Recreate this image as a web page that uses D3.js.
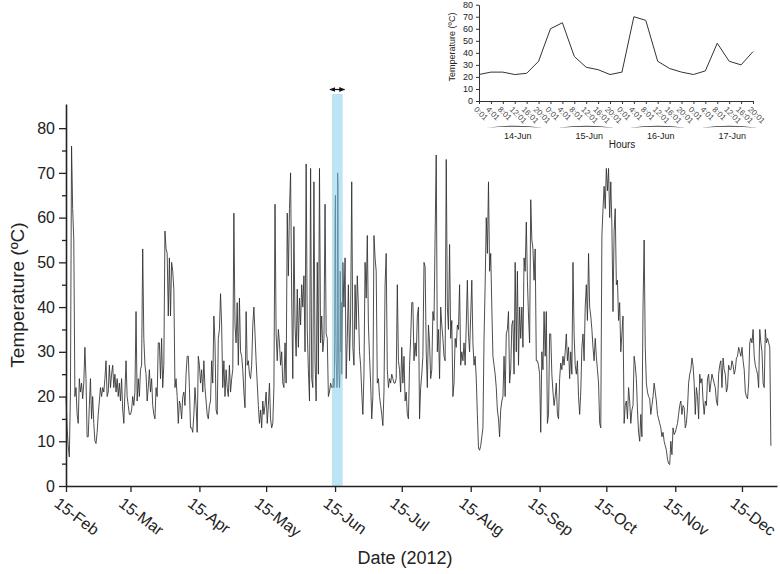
<!DOCTYPE html>
<html>
<head>
<meta charset="utf-8">
<script src="https://cdn.jsdelivr.net/npm/d3@7"></script>
<style>
  body { margin: 0; background: #fff; }
  svg { display: block; font-family: "Liberation Sans", Arial, sans-serif; }
</style>
</head>
<body>
<svg id="chart" width="780" height="574"></svg>
<script>
// Temperature readings, two per day (00:00 and 12:00)
const feb = [20,13, 9,6.5, 21,76, 62,55, 20,22, 16,14, 24,21, 23,19.5, 23,31, 24,11,
             11,18, 24,15, 20,14, 10,9.5, 12,16];
const mar = [19,22, 20,22, 21,24, 28,20, 21,27, 22,25, 27,22, 25,21, 24,20, 23,19,
             24,17, 14,21, 28,20, 18,16, 16,17, 20,18, 21,39, 19,24, 20,26, 27,53,
             33,27, 25,19, 22,26, 21,24, 18,16, 15,22, 20,32, 32,24, 33,22, 27,57, 53,52];
const apr = [38,51, 38,50, 48,44, 22,24, 20,14, 19,18, 15,20, 21,18, 25,29, 29,22,
             13,13, 12,16, 22,18, 12,29, 27,23, 26,21, 28,22, 19,16, 15,18, 19,28,
             23,38, 32,17, 16,33, 35,43, 36,22, 28,20, 26,22, 20,27, 21,24, 26,61];
const may = [36,32, 41,27, 42,30, 29,26, 21,17.5, 39,27, 28,25, 24,27, 36,40, 34,28,
             23,18, 14,17, 13,19, 16,18, 21,14, 18,23, 15,13, 14,22, 63,34, 28,35,
             32,27, 30,23, 22,32, 23,61, 47,62, 70,42, 24,58, 36,29, 44,31, 42,36, 45,40];
// 14-17 Jun are left empty here: the hourly inset readings fill them
const jun = [47,30, 72,35, 26,19, 71,24, 22,68, 28,19, 50,25, 71,32, 38,30, 33,63,
             34,33, 20,21, 23,22, null,null, null,null, null,null, null,null, 25,50,
             40,51, 24,33, 45,28, 38,68, 31,27, 45,35, 47,40, 30,27, 21,16, 25,50,
             42,56, 36,29];
const jul = [23,15, 20,56, 51,48, 23,24, 20,18, 16,13.5, 21,45, 52,26, 22,24, 23,25,
             24,23, 23,24, 45,28, 26,21, 31,23, 29,19, 21,16, 15,27, 33,41, 41,28,
             32,29, 38,40, 15,22, 25,29, 50,49, 30,22, 36,32, 24,26, 39,37, 56,74, 30,35];
const aug = [24,40, 36,33, 29,28, 73,40, 35,54, 33,37, 20,23, 33,31, 36,35, 45,27,
             30,28, 32,27, 36,46, 34,30, 38,46, 32,27, 29,24, 16,8.5, 8,9, 11,13,
             33,45, 60,52, 68,48, 52,40, 29,27, 25,22, 17,15, 11,17, 19,20, 29,20, 34,35];
const sep = [39,23, 26,36, 37,25, 50,30, 48,27, 40,33, 40,31, 51,48, 59,46, 38,32,
             64,55, 53,46, 53,28, 28,27, 25,12, 30,26, 39,29, 39,14, 16,34, 34,25,
             21,18, 20,23, 16,15, 24,27.5, 26,29, 27,30, 34,28, 31,24, 30,25, 50,34];
const oct = [27,25, 28,20, 16,21, 31,34, 28,40, 45,37, 52,40, 38,35, 31,28, 33,29,
             26,23, 14,13, 56,62, 67,62, 71,66, 71,60, 68,58, 39,57, 62,45, 46,37,
             41,30, 34,38, 14,18, 19,15, 22,19, 14,17, 18,29, 27,24, 17,12, 10,16, 11,40];
const nov = [55,31, 23,21, 20,19.5, 16,18, 20,23, 21,19, 16,15, 14,13, 11,12, 10,9,
             8,6, 5,4.8, 10,7, 13,11.5, 12,13, 14,16, 18,19, 16,18, 17.5,13, 14,17.5,
             23,25, 26,28.6, 27,23, 16,22, 20,15, 25,23, 24,19, 16,19, 18,24, 25,21];
const dec = [23,25, 24,23, 22,19, 18,25, 27,28, 22,28.6, 26,25, 21,22, 27,26, 26,28,
             27,25, 26,28.6, 29,31, 30,29, 31,28, 26,21, 20,19.5, 23,32, 33,32, 35,29,
             27,26, 25,22, 35,32, 30,23, 22,35, 32,33, 32,31, 9];

// Inset: 14-17 June, every 4 hours
const insetDays = ["14-Jun", "15-Jun", "16-Jun", "17-Jun"];
const insetHours = ["0:01", "4:01", "8:01", "12:01", "16:01", "20:01"];
const insetTemps = [22,24,24,22,23,33, 60,65,37,28,26,22, 24,70,67,33,27,24, 22,25,48,33,30,41];

const xTickDates = ["2012-02-15","2012-03-15","2012-04-15","2012-05-15","2012-06-15","2012-07-15",
                    "2012-08-15","2012-09-15","2012-10-15","2012-11-15","2012-12-15"];
const xTickLabels = ["15-Feb","15-Mar","15-Apr","15-May","15-Jun","15-Jul",
                     "15-Aug","15-Sep","15-Oct","15-Nov","15-Dec"];

// build the main series
const HALF_DAY = 12 * 3600 * 1000;
const blocks = [
  [new Date(2012, 1, 15), feb], [new Date(2012, 2, 1), mar], [new Date(2012, 3, 1), apr],
  [new Date(2012, 4, 1), may], [new Date(2012, 5, 1), jun], [new Date(2012, 6, 1), jul],
  [new Date(2012, 7, 1), aug], [new Date(2012, 8, 1), sep], [new Date(2012, 9, 1), oct],
  [new Date(2012, 10, 1), nov], [new Date(2012, 11, 1), dec]
];
let series = [];
blocks.forEach(([start, vals]) => {
  vals.forEach((v, i) => {
    if (v !== null) series.push({date: new Date(+start + i * HALF_DAY), value: v});
  });
});
const insetPoints = insetTemps.map((v, i) => {
  const day = Math.floor(i / insetHours.length);
  const hour = +insetHours[i % insetHours.length].split(":")[0];
  return {i: i, day: day, hourLabel: insetHours[i % insetHours.length],
          date: new Date(2012, 5, 14 + day, hour, 1), value: v};
});
series = series.concat(insetPoints.map(d => ({date: d.date, value: d.value})));
series.sort((a, b) => a.date - b.date);

const svg = d3.select("#chart");

// ---------- main chart ----------
const x = d3.scaleTime()
    .domain([new Date(2012, 1, 15), new Date(2012, 11, 30, 18)])
    .range([66, 777]);
const y = d3.scaleLinear().domain([0, 85.4]).range([486, 104]);

const line = d3.line().x(d => x(d.date)).y(d => y(d.value));

svg.append("path")
    .datum(series)
    .attr("fill", "none")
    .attr("stroke", "#2e2e2e")
    .attr("stroke-width", 0.85)
    .attr("d", line);

// highlight band for the inset period
const bandStart = new Date(2012, 5, 13, 14);
const bandEnd = new Date(2012, 5, 18, 10);
svg.append("rect")
    .attr("x", x(bandStart))
    .attr("y", 94)
    .attr("width", x(bandEnd) - x(bandStart))
    .attr("height", y(0) - 94)
    .attr("fill", "#87ceeb")
    .attr("opacity", 0.55);

const defs = svg.append("defs");
defs.append("marker")
    .attr("id", "arr")
    .attr("viewBox", "0 0 10 10")
    .attr("refX", 9).attr("refY", 5)
    .attr("markerWidth", 5).attr("markerHeight", 5)
    .attr("orient", "auto-start-reverse")
    .append("path").attr("d", "M0,1L10,5L0,9Z").attr("fill", "#111");

svg.append("line")
    .attr("x1", x(bandStart) - 2).attr("x2", x(bandEnd) + 2)
    .attr("y1", 89.5).attr("y2", 89.5)
    .attr("stroke", "#111").attr("stroke-width", 1.2)
    .attr("marker-start", "url(#arr)")
    .attr("marker-end", "url(#arr)");

// y axis: minor ticks then major ticks with labels
svg.append("g")
    .attr("transform", "translate(66,0)")
    .call(d3.axisLeft(y).tickValues(d3.range(5, 80, 10)).tickSize(4).tickFormat("").tickSizeOuter(0))
    .call(g => g.select(".domain").remove())
    .call(g => g.selectAll("line").attr("stroke", "#222").attr("stroke-width", 1.3));

svg.append("g")
    .attr("transform", "translate(66,0)")
    .call(d3.axisLeft(y).tickValues(d3.range(0, 81, 10)).tickSize(7).tickPadding(4).tickSizeOuter(0))
    .call(g => g.select(".domain").attr("stroke", "#222").attr("stroke-width", 1.6))
    .call(g => g.selectAll("line").attr("stroke", "#222").attr("stroke-width", 1.3))
    .call(g => g.selectAll("text").attr("font-size", 16).attr("fill", "#222")
        .attr("font-family", "Liberation Sans, Arial, sans-serif"));

// x axis
svg.append("g")
    .attr("transform", "translate(0,486)")
    .call(d3.axisBottom(x)
        .tickValues(xTickDates.map(d => new Date(d + "T00:00:00")))
        .tickFormat((d, i) => xTickLabels[i])
        .tickSize(6).tickSizeOuter(0))
    .call(g => g.select(".domain").attr("stroke", "#222").attr("stroke-width", 1.6))
    .call(g => g.selectAll("line").attr("stroke", "#222").attr("stroke-width", 1.3))
    .call(g => g.selectAll("text")
        .attr("font-size", 16).attr("fill", "#222")
        .attr("font-family", "Liberation Sans, Arial, sans-serif")
        .attr("text-anchor", "start")
        .attr("x", 0).attr("y", 0).attr("dy", "0.75em")
        .attr("transform", "translate(-6,10) rotate(37)"));

svg.append("text")
    .attr("x", 405).attr("y", 564)
    .attr("text-anchor", "middle")
    .attr("font-size", 18).attr("fill", "#222")
    .text("Date (2012)");

svg.append("text")
    .attr("transform", "translate(24,295) rotate(-90)")
    .attr("text-anchor", "middle")
    .attr("font-size", 19).attr("fill", "#222")
    .text("Temperature (ºC)");

// ---------- inset ----------
const ix = d3.scalePoint().domain(d3.range(insetTemps.length)).range([479, 753]);
const iy = d3.scaleLinear().domain([0, 80]).range([101, 4.7]);

svg.append("path")
    .datum(insetPoints)
    .attr("fill", "none")
    .attr("stroke", "#333")
    .attr("stroke-width", 1)
    .attr("d", d3.line().x(d => ix(d.i)).y(d => iy(d.value)));

svg.append("g")
    .attr("transform", "translate(479,0)")
    .call(d3.axisLeft(iy).tickValues(d3.range(0, 81, 10)).tickSize(3).tickPadding(3).tickSizeOuter(0))
    .call(g => g.select(".domain").attr("stroke", "#333"))
    .call(g => g.selectAll("line").attr("stroke", "#333"))
    .call(g => g.selectAll("text").attr("font-size", 9).attr("fill", "#222")
        .attr("font-family", "Liberation Sans, Arial, sans-serif"));

svg.append("g")
    .attr("transform", "translate(0,101)")
    .call(d3.axisBottom(ix).tickSize(3).tickSizeOuter(0)
        .tickFormat(i => insetPoints[i].hourLabel))
    .call(g => g.select(".domain").attr("stroke", "#333"))
    .call(g => g.selectAll("line").attr("stroke", "#333"))
    .call(g => g.selectAll("text")
        .attr("font-size", 8).attr("fill", "#444")
        .attr("font-family", "Liberation Sans, Arial, sans-serif")
        .attr("text-anchor", "start")
        .attr("x", 0).attr("y", 0).attr("dy", "0.7em")
        .attr("transform", "translate(-2,5) rotate(45)"));

// day groups under the hour labels
const dayGroups = insetDays.map((name, k) => {
  const first = ix(k * insetHours.length);
  const last = ix(k * insetHours.length + insetHours.length - 1);
  return {name: name, mid: (first + last) / 2};
});

svg.append("g").selectAll("path")
    .data(dayGroups)
    .join("path")
    .attr("fill", "#444")
    .attr("d", d => {
      const a = d.mid + 6 - 28, b = d.mid + 6 + 28, m = d.mid + 6;
      return `M${a},127.8Q${m},123.6 ${b},127.8Q${m},125.6 ${a},127.8Z`;
    });

svg.append("g").selectAll("text")
    .data(dayGroups)
    .join("text")
    .attr("x", d => d.mid + 9)
    .attr("y", 139)
    .attr("text-anchor", "middle")
    .attr("font-size", 9).attr("fill", "#222")
    .text(d => d.name);

svg.append("text")
    .attr("x", 622).attr("y", 148)
    .attr("text-anchor", "middle")
    .attr("font-size", 10).attr("fill", "#222")
    .text("Hours");

svg.append("text")
    .attr("transform", "translate(455,47) rotate(-90)")
    .attr("text-anchor", "middle")
    .attr("font-size", 9).attr("fill", "#222")
    .text("Temperature (ºC)");
</script>
</body>
</html>
